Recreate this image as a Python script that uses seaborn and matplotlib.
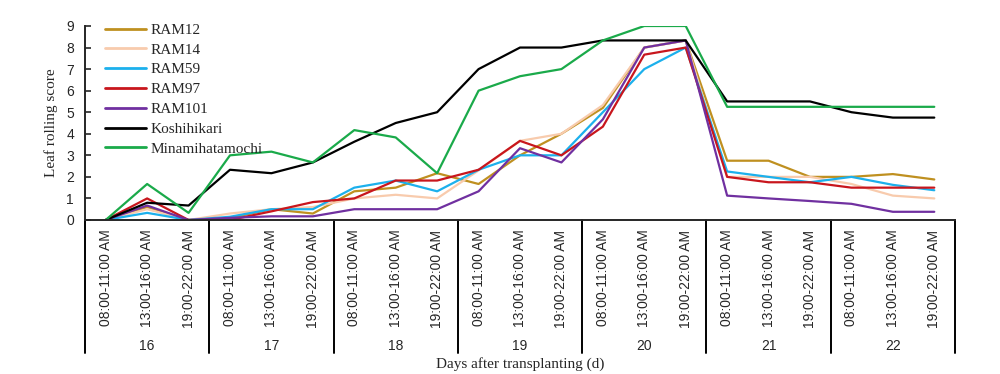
import matplotlib
matplotlib.use('Agg')
import matplotlib.pyplot as plt
import seaborn as sns
import pandas as pd
import numpy as np

days = ['16', '17', '18', '19', '20', '21', '22']
slots = ['08:00-11:00 AM', '13:00-16:00 AM', '19:00-22:00 AM']

ram12 = [0, 0.6, 0, 0.1, 0.5, 0.3, 1.33, 1.5, 2.17, 1.67, 3.0, 4.0, 5.2, 8.0, 8.33, 2.75, 2.75, 2.0, 2.0, 2.13, 1.88]
ram14 = [0, 0.5, 0, 0.3, 0.5, 0.6, 1.0, 1.17, 1.0, 2.3, 3.67, 4.0, 5.33, 8.0, 8.33, 2.0, 2.0, 2.0, 1.67, 1.13, 1.0]
ram59 = [0, 0.33, 0, 0.15, 0.5, 0.5, 1.5, 1.83, 1.33, 2.33, 3.0, 3.0, 5.0, 7.0, 8.0, 2.25, 2.0, 1.75, 2.0, 1.63, 1.38]
ram97 = [0, 1.0, 0, 0, 0.4, 0.83, 1.0, 1.83, 1.83, 2.33, 3.67, 3.0, 4.33, 7.67, 8.0, 2.0, 1.75, 1.75, 1.5, 1.5, 1.5]
ram101 = [0, 0.67, 0, 0.1, 0.17, 0.17, 0.5, 0.5, 0.5, 1.33, 3.33, 2.67, 4.67, 8.0, 8.33, 1.13, 1.0, 0.88, 0.75, 0.38, 0.38]
koshihikari = [0, 0.8, 0.67, 2.33, 2.17, 2.67, 3.63, 4.5, 5.0, 7.0, 8.0, 8.0, 8.33, 8.33, 8.33, 5.5, 5.5, 5.5, 5.0, 4.75, 4.75]
minami = [0, 1.67, 0.33, 3.0, 3.17, 2.67, 4.17, 3.83, 2.17, 6.0, 6.67, 7.0, 8.33, 9.0, 9.0, 5.25, 5.25, 5.25, 5.25, 5.25, 5.25]

series = {
    'RAM12': ram12,
    'RAM14': ram14,
    'RAM59': ram59,
    'RAM97': ram97,
    'RAM101': ram101,
    'Koshihikari': koshihikari,
    'Minamihatamochi': minami,
}
colors = ['#BF9020', '#F8CBAD', '#1CB0EC', '#C8161D', '#7030A0', '#000000', '#1AAA4A']

# long-form table
n = len(days) * len(slots)
rows = []
for name, vals in series.items():
    for i, v in enumerate(vals):
        rows.append({'pos': i, 'score': v, 'line': name})
df = pd.DataFrame(rows)

sns.set_style('ticks')
plt.rcParams['font.family'] = ['Liberation Sans', 'DejaVu Sans']

fig = plt.figure(figsize=(10, 3.74), dpi=100)
ax = fig.add_axes([0.085, 0.4118, 0.87, 0.5187])

sns.lineplot(data=df, x='pos', y='score', hue='line', palette=colors,
             linewidth=1.6, ax=ax, legend=True)

ax.set_xlim(-0.5, n - 0.5)
ax.set_ylim(0, 9)
ax.set_yticks(range(0, 10))
ax.set_xticks(range(n))
ax.set_xticklabels(slots * len(days), rotation=90, fontsize=10)
ax.tick_params(axis='y', direction='in', length=4, width=1.2, labelsize=10, pad=8)
ax.tick_params(axis='x', length=0, pad=7)
for s in ['top', 'right']:
    ax.spines[s].set_visible(False)
ax.spines['left'].set_linewidth(1.4)
ax.spines['bottom'].set_linewidth(1.4)
ax.set_xlabel('')
ax.set_ylabel('Leaf rolling score', family='Liberation Serif', fontsize=11, labelpad=6)

# day separators and labels
trans = ax.get_xaxis_transform()
for k in range(len(days) + 1):
    xs = k * 3 - 0.5
    ax.plot([xs, xs], [0, -0.686], color='black', lw=1.4, transform=trans, clip_on=False)
for k, d in enumerate(days):
    ax.text(k * 3 + 1, -0.65, d, transform=trans, ha='center', va='center', fontsize=10)

fig.text(0.52, 0.028, 'Days after transplanting (d)', ha='center', va='center',
         family='Liberation Serif', fontsize=11)

leg = ax.legend(loc='upper left', bbox_to_anchor=(0.105, 0.938), bbox_transform=fig.transFigure,
                frameon=False, prop={'family': 'Liberation Serif', 'size': 11},
                handlelength=2.7, handletextpad=0.3, labelspacing=0.4, borderpad=0, borderaxespad=0)
for h in leg.get_lines():
    h.set_linewidth(2)

fig.savefig('out.png', dpi=100)
